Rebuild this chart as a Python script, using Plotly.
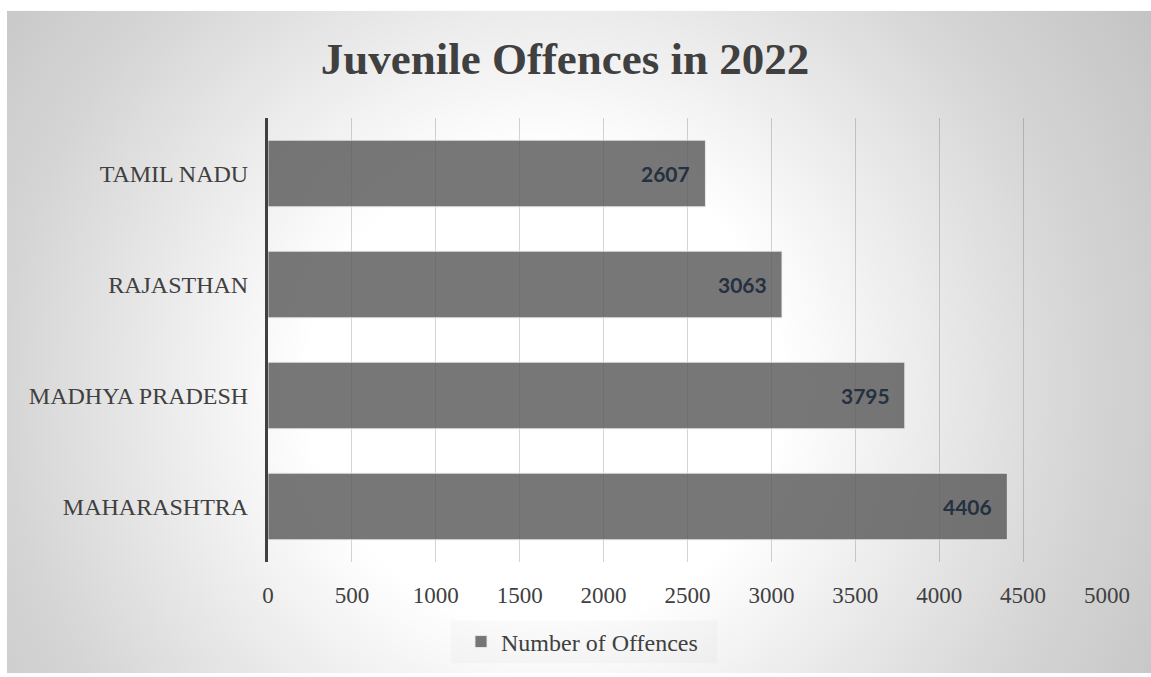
import base64
import plotly.graph_objects as go

# Juvenile offences recorded in 2022, by state
states = ["MAHARASHTRA", "MADHYA PRADESH", "RAJASTHAN", "TAMIL NADU"]
offences = [4406, 3795, 3063, 2607]
x_ticks = [0, 500, 1000, 1500, 2000, 2500, 3000, 3500, 4000, 4500, 5000]
series_name = "Number of Offences"
chart_title = "Juvenile Offences in 2022"

W, H = 1151, 677
L, R, T, B = 268, 44, 118, 112
PW, PH = W - L - R, H - T - B

SERIF = "Liberation Serif, Times New Roman, serif"
TEXT = "#404040"

# radial grey-to-white backdrop of the chart area
bg_w, bg_h = W - 7, H - 10
svg = f"""<svg xmlns='http://www.w3.org/2000/svg' width='{bg_w}' height='{bg_h}' viewBox='0 0 {bg_w} {bg_h}'>
<defs><radialGradient id='g' gradientUnits='userSpaceOnUse' cx='538' cy='380' r='720'>
<stop offset='0' stop-color='#ffffff'/>
<stop offset='0.33' stop-color='#ffffff'/>
<stop offset='0.75' stop-color='#d5d5d5'/>
<stop offset='1' stop-color='#c3c3c3'/>
</radialGradient></defs>
<rect x='0' y='0' width='{bg_w}' height='{bg_h}' fill='url(#g)'/>
</svg>"""
bg_uri = "data:image/svg+xml;base64," + base64.b64encode(svg.encode()).decode()


def px_x(p):
    return (p - L) / PW


def px_y(p):
    return (H - B - p) / PH


fig = go.Figure()
fig.add_trace(go.Bar(
    y=states,
    x=offences,
    orientation="h",
    name=series_name,
    marker=dict(color="rgba(89,89,89,0.82)",
                line=dict(color="rgba(235,235,235,0.9)", width=1)),
    showlegend=True,
))

# value labels at the inside end of each bar
for s, v in zip(states, offences):
    fig.add_annotation(
        x=v, y=s, xref="x", yref="y",
        text=f"<b>{v}</b>", showarrow=False,
        xanchor="right", yanchor="middle", xshift=-13,
        font=dict(family="Lato, Open Sans, sans-serif", size=21, color="#253040"),
    )

fig.update_layout(
    width=W, height=H,
    margin=dict(l=L, r=R, t=T, b=B, pad=0),
    paper_bgcolor="#ffffff",
    plot_bgcolor="rgba(0,0,0,0)",
    bargap=0.4,
    title=dict(
        text=f"<b>{chart_title}</b>",
        font=dict(family=SERIF, size=45, color=TEXT),
        x=565 / W, xanchor="center", xref="container",
        y=1 - 58 / H, yanchor="middle", yref="container",
    ),
    xaxis=dict(
        range=[0, 5000],
        tickvals=x_ticks,
        ticktext=[str(t) for t in x_ticks],
        showgrid=True, gridcolor="rgba(0,0,0,0.17)", gridwidth=1.3,
        zeroline=False, showline=False, ticks="",
        ticklabelstandoff=17,
        tickfont=dict(family=SERIF, size=23, color=TEXT),
        fixedrange=True,
    ),
    yaxis=dict(
        showgrid=False, zeroline=False,
        showline=True, linecolor="#404040", linewidth=3,
        ticks="", ticklabelstandoff=12,
        tickfont=dict(family=SERIF, size=24, color=TEXT),
        fixedrange=True,
    ),
    legend=dict(
        orientation="h",
        x=px_x(461), xanchor="left",
        y=px_y(645.5), yanchor="middle",
        bgcolor="rgba(0,0,0,0)",
        font=dict(family=SERIF, size=24, color=TEXT),
    ),
    images=[dict(
        source=bg_uri, xref="paper", yref="paper",
        x=px_x(7), y=px_y(10), sizex=bg_w / PW, sizey=bg_h / PH,
        xanchor="left", yanchor="top", sizing="stretch", layer="below",
    )],
    shapes=[dict(
        type="rect", xref="paper", yref="paper", layer="below",
        x0=px_x(451), x1=px_x(717), y0=px_y(667), y1=px_y(624),
        fillcolor="rgba(0,0,0,0.02)", line=dict(width=0),
    )],
)

fig.write_html("out.html")
